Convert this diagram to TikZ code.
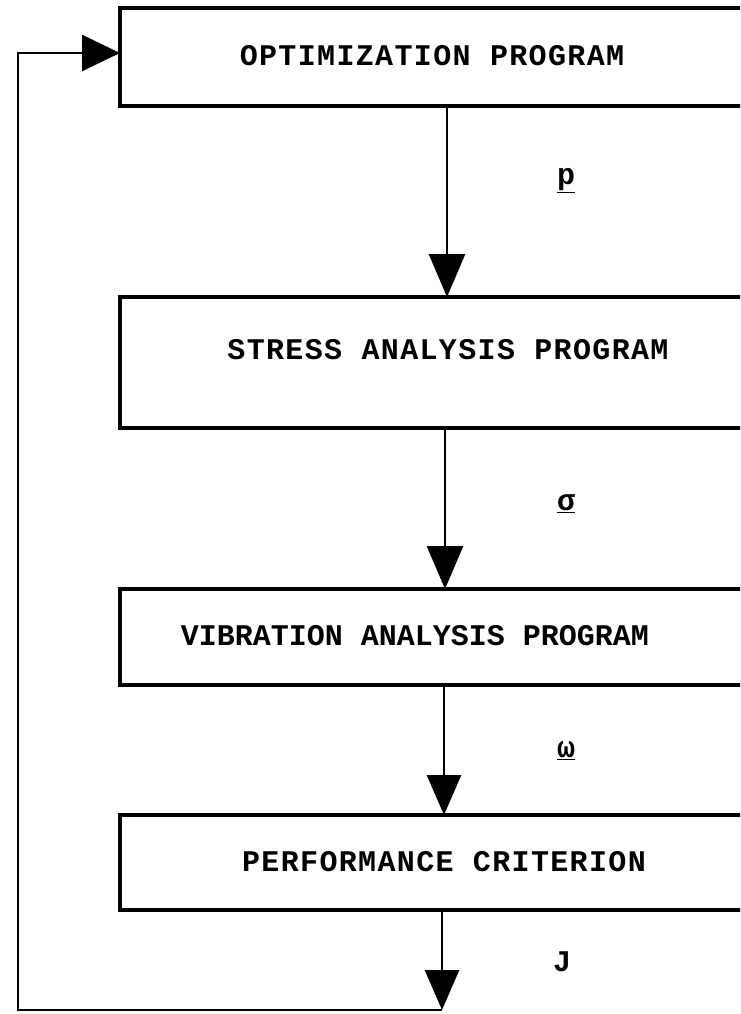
\documentclass[tikz,border=0pt]{standalone}
\usepackage{fontspec}
\usetikzlibrary{arrows.meta}
\newfontfamily\twfont[LetterSpace=4.5]{Liberation Mono}
\newfontfamily\twfontn{Liberation Mono}
\begin{document}
\begin{tikzpicture}[x=1pt,y=-1pt,
  box/.style={draw, line width=3.5pt, anchor=north west, inner sep=0pt, outer sep=0pt, minimum width=700pt},
  boxtext/.style={font=\twfont\bfseries\fontsize{30}{36}\selectfont, inner sep=0pt},
  sig/.style={font=\twfontn\bfseries\fontsize{30}{36}\selectfont, inner sep=0pt},
  flow/.style={line width=2.8pt, -{Triangle[width=36pt,length=43pt]}},
  flowsm/.style={line width=2.8pt, -{Triangle[width=34pt,length=40pt]}},
  back/.style={line width=2.8pt, line join=miter},
  backtip/.style={line width=2.8pt, -{Triangle[width=36pt,length=38pt]}}]
  \useasboundingbox (0,0) rectangle (740,1014);
  \clip (0,0) rectangle (740,1014);
  \fill[white] (0,0) rectangle (740,1014);

  % program blocks (their right sides run past the sheet edge)
  \node[box, minimum height=98pt]  (box1) at (120,8)   {};
  \node[box, minimum height=131pt] (box2) at (120,297) {};
  \node[box, minimum height=96pt]  (box3) at (120,589) {};
  \node[box, minimum height=95pt]  (box4) at (120,815) {};

  \node[boxtext] (t1) at (432,56)  {OPTIMIZATION PROGRAM};
  \node[boxtext] (t2) at (448,350) {STRESS ANALYSIS PROGRAM};
  \node[boxtext, font=\twfontn\bfseries\fontsize{30}{36}\selectfont] (t3) at (415,636) {VIBRATION ANALYSIS PROGRAM};
  \node[boxtext] (t4) at (444,862) {PERFORMANCE CRITERION};

  % x positions of the vertical connectors
  \coordinate (c1) at (447,0);
  \coordinate (c2) at (445,0);
  \coordinate (c3) at (444,0);
  \coordinate (c4) at (442,0);
  % feedback loop corners
  \coordinate (bot) at (442,1010);
  \coordinate (fbc) at (18,53);

  \draw[flow]   (box1.south west -| c1) -- (box2.north west -| c1);
  \draw[flow]   (box2.south west -| c2) -- (box3.north west -| c2);
  \draw[flowsm] (box3.south west -| c3) -- (box4.north west -| c3);
  \draw[flowsm] (box4.south west -| c4) -- (bot);
  \draw[back] (bot) -- (bot -| fbc) -- (fbc) -- ([xshift=-30pt]fbc -| box1.west);
  \draw[backtip] ([xshift=-32pt]fbc -| box1.west) -- (fbc -| box1.west);

  % signal labels
  \node[sig] (lp) at (566,181) {\underline{p}};
  \node[sig] (ls) at (566,504) {\underline{σ}};
  \node[sig] (lw) at (566,751) {\underline{ω}};
  \node[sig] (lj) at (562,962) {J};
\end{tikzpicture}
\end{document}
